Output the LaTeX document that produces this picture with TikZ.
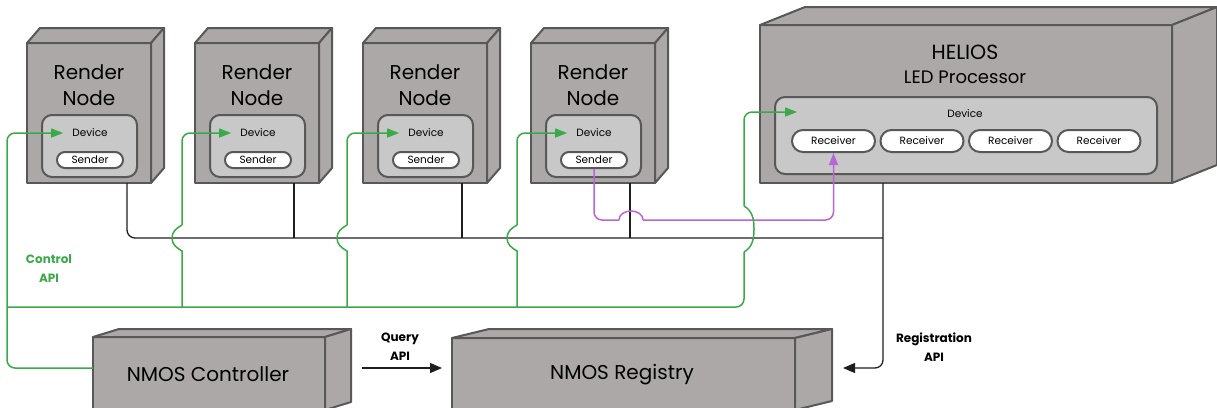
\documentclass[tikz,border=0pt]{standalone}
\usepackage{fontspec}
\setmainfont{Poppins}
\usetikzlibrary{arrows.meta,calc}
\definecolor{boxfill}{RGB}{172,168,167}
\definecolor{boxedge}{RGB}{88,88,88}
\definecolor{devfill}{RGB}{200,200,200}
\definecolor{ctrlgreen}{RGB}{58,170,72}
\definecolor{flowpurple}{RGB}{185,100,215}
\definecolor{busblack}{RGB}{30,30,30}
\newcommand\cubefaces[3]{%
  \draw[cubeface] (#1.north west) -- ++(#2,#3) -- ($(#1.north east)+(#2,#3)$) -- (#1.north east) -- cycle;
  \draw[cubeface] (#1.north east) -- ++(#2,#3) -- ($(#1.south east)+(#2,#3)$) -- (#1.south east) -- cycle;}
\begin{document}
\begin{tikzpicture}[x=1pt,y=-1pt,
  cubeface/.style={fill=boxfill, draw=boxedge, line width=2pt, line join=round},
  front/.style={cubeface, rectangle, inner sep=0pt, outer sep=0pt},
  dev/.style={draw=boxedge, fill=devfill, line width=2pt, rounded corners=10pt, inner sep=0pt},
  pill/.style={draw=boxedge, fill=white, line width=2pt, inner sep=0pt, font=\fontsize{10.5}{12}\selectfont},
  small/.style={inner sep=0pt, font=\fontsize{10.5}{12}\selectfont},
  title/.style={inner sep=0pt, align=center, font=\fontsize{20}{26}\selectfont},
  lbl/.style={inner sep=0pt, align=center, font=\fontsize{12}{19.5}\selectfont\bfseries},
  gline/.style={draw=ctrlgreen, line width=1.5pt},
  garrow/.style={gline, -{Triangle[length=12pt,width=9pt]}},
  pline/.style={draw=flowpurple, line width=1.5pt},
  parrow/.style={pline, -{Triangle[length=12pt,width=9pt]}},
  bline/.style={draw=busblack, line width=1.3pt},
  barrow/.style={bline, -{Triangle[length=12pt,width=10pt]}}]
\useasboundingbox (0,0) rectangle (1217,407);
\clip (0,0) rectangle (1217,407);

% render nodes
\foreach \i/\L in {1/27,2/195,3/363,4/531}{
  \node[front, minimum width=124pt, minimum height=140pt] (rn\i) at (\L+62,113) {};
  \cubefaces{rn\i}{13}{-15}
  \node[title] (rt\i) at (\L+62,85) {Render\\Node};
  \node[dev, minimum width=95pt, minimum height=62pt] (d\i) at (\L+62.5,146) {};
  \node[small] (dl\i) at (\L+63,133) {Device};
  \node[pill, rounded corners=8pt, minimum width=66pt, minimum height=16pt] (s\i) at (\L+63,160) {Sender};
}

% HELIOS
\node[front, minimum width=412pt, minimum height=158pt] (hel) at (966,104) {};
\cubefaces{hel}{45}{-18}
\node[inner sep=0pt, font=\fontsize{20.5}{24}\selectfont] (ht1) at (965,52) {HELIOS};
\node[inner sep=0pt, font=\fontsize{18}{22}\selectfont] (ht2) at (965,77) {LED Processor};
\node[dev, minimum width=382pt, minimum height=77pt] (hdev) at (966,135.5) {};
\node[small] (hdl) at (965,114) {Device};
\foreach \i/\X in {1/833.5,2/922,3/1010.5,4/1099}{
  \node[pill, rounded corners=11pt, minimum width=83pt, minimum height=22pt] (r\i) at (\X,141) {Receiver};
}

% controller and registry
\node[front, minimum width=232pt, minimum height=73pt] (ctrl) at (209,373.5) {};
\cubefaces{ctrl}{26}{-8}
\node[inner sep=0pt, font=\fontsize{20}{24}\selectfont] (ctrlt) at (208,374) {NMOS Controller};
\node[front, minimum width=343pt, minimum height=72pt] (reg) at (623.5,374) {};
\cubefaces{reg}{37}{-9}
\node[inner sep=0pt, font=\fontsize{20}{24}\selectfont] (regt) at (622,375) {NMOS Registry};

% labels
\node[lbl, text=ctrlgreen] (capi) at (49,268.5) {Control\\API};
\node[lbl] (qapi) at (400,346.5) {Query\\API};
\node[lbl] (rapi) at (934,347) {Registration\\API};

% coordinates
\coordinate (busR) at (883,238);
\coordinate (g0) at (7,133);
\coordinate (gbL) at (7,307);
\coordinate (gbR) at (744,307);
\coordinate (pb1) at (619,220);
\coordinate (pb2) at (643,220);

% black bus
\draw[bline, rounded corners=8pt] ([xshift=38pt]rn1.south) |- (busR);
\foreach \i in {2,3,4}{
  \draw[bline] ([xshift=37pt]rn\i.south) -- ([xshift=37pt]rn\i.south |- busR);
}
\draw[barrow, rounded corners=8pt] ([xshift=-83pt]hel.south) |- ($(reg.east)+(48,-6)$);
\draw[barrow] ([xshift=37pt,yshift=5.5pt]ctrl.east) -- ([xshift=-10pt,yshift=6pt]reg.west);

% purple flow
\draw[pline, rounded corners=8pt] (s4.south) |- (pb1);
\draw[pline] (pb1) to[out=90,in=180] (631,211) to[out=0,in=90] (pb2);
\draw[parrow, rounded corners=8pt] (pb2) -| (r1.south);

% green control
\draw[garrow, rounded corners=8pt] ([yshift=5.5pt]ctrl.west) -| (g0) -- ([xshift=-9pt]dl1.west);
\draw[gline, rounded corners=8pt] (gbL) -- (gbR) -- ++(0,-55);
\foreach \i/\X in {2/182,3/347,4/517}{
  \draw[gline] (\X,307) -- (\X,251) to[out=150,in=-90] (\X-10,238) to[out=90,in=-150] (\X,225);
  \draw[garrow, rounded corners=8pt] (\X,225) -- (\X,133) -- ([xshift=-9pt]dl\i.west);
}
\draw[gline] (744,252) to[out=30,in=-90] (754,229) to[out=90,in=-30] (744,206);
\draw[garrow, rounded corners=8pt] (744,206) |- ($(hdev.north west)+(23,16)$);
\end{tikzpicture}
\end{document}
